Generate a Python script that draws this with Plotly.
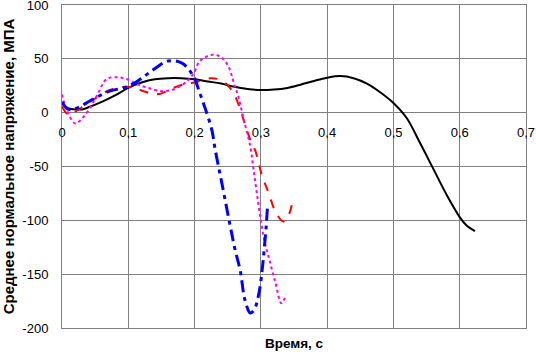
import plotly.graph_objects as go

# Black solid series
black_x = [0, 0.005, 0.01, 0.02, 0.03, 0.04, 0.06, 0.08, 0.1, 0.12, 0.14, 0.16, 0.18, 0.2,
           0.22, 0.24, 0.26, 0.28, 0.3, 0.32, 0.34, 0.36, 0.38, 0.4, 0.42, 0.44, 0.46, 0.48,
           0.5, 0.52, 0.54, 0.56, 0.58, 0.6, 0.61, 0.623]
black_y = [10, 6, 4, 3, 3, 5, 10, 16, 23, 28, 31, 32, 32, 31,
           29, 27, 24, 22, 21, 21.5, 23, 26, 29.5, 32.5, 34, 32, 27, 19,
           9, -5, -28, -52, -76, -97, -104.5, -110]

# Blue dash-dot series
blue_x = [0, 0.01, 0.025, 0.045, 0.072, 0.098, 0.118, 0.138, 0.16, 0.181, 0.198, 0.208, 0.216,
          0.226, 0.231, 0.241, 0.254, 0.261, 0.269, 0.276, 0.284, 0.29, 0.297, 0.302, 0.305,
          0.308, 0.31]
blue_y = [10, 3, 5, 12, 20, 24, 31, 40, 48, 46, 34, 18, 4,
          -16, -34, -65, -106, -127, -147, -174, -186, -183, -168, -146, -127,
          -106, -87]

# Red dashed series
red_x = [0, 0.01, 0.025, 0.042, 0.072, 0.1, 0.118, 0.143, 0.168, 0.188, 0.2, 0.224, 0.236,
         0.249, 0.259, 0.269, 0.276, 0.284, 0.292, 0.302, 0.312, 0.322, 0.334, 0.342, 0.348]
red_y = [6, -2, 3, 10, 21, 24, 21, 17, 23, 27, 28, 32, 31,
         26, 18, 3, -11, -25, -36, -59, -75, -92, -101, -95, -82]

# Magenta dotted series
mag_x = [0, 0.007, 0.02, 0.035, 0.052, 0.067, 0.083, 0.098, 0.115, 0.13, 0.15, 0.17, 0.19,
         0.2, 0.208, 0.229, 0.241, 0.251, 0.261, 0.266, 0.274, 0.284, 0.289, 0.294, 0.299,
         0.305, 0.313, 0.322, 0.331, 0.338]
mag_y = [17, 3, -10, -2, 15, 31, 33, 31, 26, 23, 20, 22, 30,
         38, 48, 54, 51, 43, 24, 15, -6, -31, -53, -75, -96,
         -118, -137, -158, -177, -169]

x_tick_vals = [0, 0.1, 0.2, 0.3, 0.4, 0.5, 0.6, 0.7]
x_tick_text = ["0", "0,1", "0,2", "0,3", "0,4", "0,5", "0,6", "0,7"]
y_tick_vals = [-200, -150, -100, -50, 0, 50, 100]
y_tick_text = ["-200", "-150", "-100", "-50", "0", "50", "100"]

FONT = "Liberation Sans, Arial, sans-serif"

fig = go.Figure()
fig.add_trace(go.Scatter(x=black_x, y=black_y, mode="lines",
                         line=dict(color="black", width=2, shape="spline")))
fig.add_trace(go.Scatter(x=red_x, y=red_y, mode="lines",
                         line=dict(color="#FF0000", width=2, dash="dash", shape="spline")))
fig.add_trace(go.Scatter(x=mag_x, y=mag_y, mode="lines",
                         line=dict(color="#FF00FF", width=2, dash="dot", shape="spline")))
fig.add_trace(go.Scatter(x=blue_x, y=blue_y, mode="lines",
                         line=dict(color="#0000FF", width=3, dash="12px,5px,4px,5px", shape="spline")))
# invisible trace to activate the secondary x axis (labels at y = 0)
fig.add_trace(go.Scatter(x=x_tick_vals[:1], y=[None], xaxis="x2", mode="lines",
                         showlegend=False, hoverinfo="skip"))

fig.update_layout(
    width=536, height=362,
    margin=dict(l=62, r=10, t=5, b=34),
    paper_bgcolor="white", plot_bgcolor="white",
    showlegend=False,
    font=dict(family=FONT, color="black", size=13),
    xaxis=dict(range=[0, 0.7], tickvals=x_tick_vals, showticklabels=False,
               showgrid=True, gridcolor="#808080", gridwidth=1, zeroline=False,
               showline=True, linecolor="#808080", linewidth=1, mirror=True,
               automargin=False,
               title=dict(text="<b>Время, с</b>", font=dict(size=13.5), standoff=10)),
    xaxis2=dict(range=[0, 0.7], overlaying="x", anchor="free", position=2/3,
                tickvals=x_tick_vals, ticktext=x_tick_text, showgrid=False,
                zeroline=False, showline=False, ticks="", side="bottom",
                tickfont=dict(size=13), ticklabeloverflow="allow",
                ticklabelstandoff=10, automargin=False),
    yaxis=dict(range=[-200, 100], tickvals=y_tick_vals, ticktext=y_tick_text,
               showgrid=True, gridcolor="#808080", gridwidth=1, zeroline=False,
               showline=True, linecolor="#808080", linewidth=1, mirror=True,
               ticks="", tickfont=dict(size=13), ticklabeloverflow="allow",
               ticklabelstandoff=10, automargin=False,
               title=dict(text="<b>Среднее нормальное напряжение, МПА</b>",
                          font=dict(size=15), standoff=4)),
)

fig.write_html("out.html", config={"displayModeBar": False},
               post_script="document.body.style.margin='0px';")
